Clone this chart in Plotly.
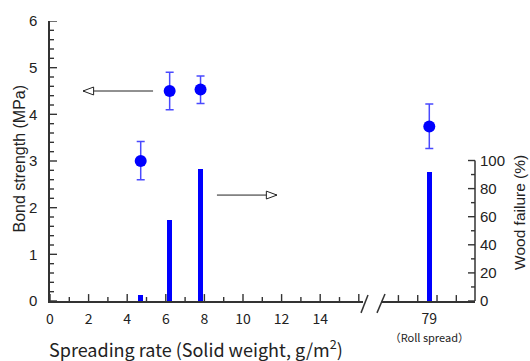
import plotly.graph_objects as go

# ---- data ----
spread_rate = [4.7, 6.2, 7.8, 79]
bond_strength = [3.0, 4.5, 4.53, 3.74]
bond_err_plus = [0.42, 0.40, 0.29, 0.48]
bond_err_minus = [0.40, 0.40, 0.30, 0.47]
wood_failure = [4, 58, 94, 92]
x_left_ticks = [0, 2, 4, 6, 8, 10, 12, 14]
x_left_major = [0, 2, 4, 6, 8, 10, 12, 14, 16]
x_left_minor = [1, 3, 5, 7, 9, 11, 13, 15]
x_right_ticks = [79]
x_right_ticktext = ["79<br><span style='font-size:11px'>（Roll spread）</span>"]
x_right_minor = [77.4, 78.4, 79.4, 80.4]
bs_major = [0, 1, 2, 3, 4, 5, 6]
bs_minor = [v / 10 for v in range(2, 60, 2) if v % 10]
wf_ticks = [0, 20, 40, 60, 80, 100]
wf_minor = [10, 30, 50, 70, 90]

BLUE = "#0000ff"
ERR = "#4a4aff"
AX = "#333333"
W, H = 530, 361
L, R, T, B = 50, 55, 18, 60
pw = W - L - R
ph = H - T - B
wf_px = 142  # height of the 0-100 % axis

d1 = [0, (363 - L) / pw]
d2 = [(381 - L) / pw, 1]
scale = 19.3  # px per unit
r1 = [0, (d1[1] - d1[0]) * pw / scale]
w2 = (d2[1] - d2[0]) * pw / scale
r2 = [79 - (429.3 - 381) / scale, 79 - (429.3 - 381) / scale + w2]

left = [i for i, v in enumerate(spread_rate) if v < 50]
right = [i for i, v in enumerate(spread_rate) if v >= 50]

def pick(arr, idx):
    return [arr[i] for i in idx]

fig = go.Figure()
for idx, xa in ((left, "x"), (right, "x2")):
    fig.add_trace(go.Bar(
        x=pick(spread_rate, idx), y=pick(wood_failure, idx),
        xaxis=xa, yaxis="y2", width=0.27, marker=dict(color=BLUE, line=dict(width=0)),
        showlegend=False))
for idx, xa in ((left, "x"), (right, "x2")):
    fig.add_trace(go.Scatter(
        x=pick(spread_rate, idx), y=pick(bond_strength, idx),
        xaxis=xa, yaxis="y", mode="markers", cliponaxis=False,
        marker=dict(color=BLUE, size=12),
        error_y=dict(type="data", symmetric=False,
                     array=pick(bond_err_plus, idx), arrayminus=pick(bond_err_minus, idx),
                     color=ERR, thickness=1.5, width=4),
        showlegend=False))

tickfont_x = dict(family="Noto Sans CJK JP", size=14, color="#222")
tickfont_y = dict(family="Liberation Sans", size=15, color="#222")

fig.update_layout(
    width=W, height=H, margin=dict(l=L, r=R, t=T, b=B),
    paper_bgcolor="white", plot_bgcolor="rgba(0,0,0,0)",
    bargap=0,
    xaxis=dict(domain=d1, range=r1, anchor="y", showline=True, linecolor=AX, linewidth=1.5,
               tickmode="array", tickvals=x_left_ticks, ticks="",
               tickfont=tickfont_x, ticklabelstandoff=4, showgrid=False, zeroline=False),
    xaxis2=dict(domain=d2, range=r2, anchor="y", showline=True, linecolor=AX, linewidth=1.5,
                tickmode="array", tickvals=x_right_ticks, ticktext=x_right_ticktext, ticks="",
                tickfont=tickfont_x, ticklabelstandoff=4, showgrid=False, zeroline=False),
    yaxis=dict(domain=[0, 1], range=[0, 6], anchor="x", showline=True, linecolor=AX, linewidth=1.5,
               tickmode="array", tickvals=bs_major, ticks="",
               tickfont=tickfont_y, ticklabelstandoff=8, showgrid=False, zeroline=False),
    yaxis2=dict(overlaying="y", range=[0, 100 * ph / wf_px], anchor="x2", side="right", showline=False,
                tickmode="array", tickvals=wf_ticks, ticks="",
                tickfont=tickfont_y, ticklabelstandoff=4, showgrid=False, zeroline=False),
)

def px2x(p):
    return (p - L) / pw

def py2y(p):
    return (T + ph - p) / ph

# right axis line only over the 0-100 % span
fig.add_shape(type="line", xref="paper", yref="paper", x0=1, x1=1, y0=0, y1=wf_px / ph,
              line=dict(color=AX, width=1.5))

# tick marks (inside)
tw = dict(color=AX, width=1.4)
for v in x_left_major + x_left_minor:
    ln = 7 if v in x_left_major else 4
    fig.add_shape(type="line", xref="x", yref="paper", x0=v, x1=v, y0=0, y1=ln / ph, line=tw)
for v in x_right_minor:
    fig.add_shape(type="line", xref="x2", yref="paper", x0=v, x1=v, y0=0, y1=6 / ph, line=tw)
for v in bs_major + bs_minor:
    ln = 7 if v in bs_major else 4
    fig.add_shape(type="line", xref="paper", yref="y", x0=0, x1=ln / pw, y0=v, y1=v, line=tw)
for v in wf_ticks + wf_minor:
    ln = 7 if v in wf_ticks else 4
    fig.add_shape(type="line", xref="paper", yref="y2", x0=1 - ln / pw, x1=1, y0=v, y1=v, line=tw)

# axis titles
fig.add_annotation(text="Spreading rate (Solid weight, g/m<sup>2</sup>)", xref="paper", yref="paper",
                   x=px2x(47), y=py2y(349), xanchor="left", yanchor="middle",
                   showarrow=False, font=dict(family="Noto Sans CJK JP", size=18, color="#222"))
fig.add_annotation(text="Bond strength (MPa)", xref="paper", yref="paper", textangle=-90,
                   x=px2x(20), y=py2y(157), xanchor="center", yanchor="middle",
                   showarrow=False, font=dict(family="Liberation Sans", size=16, color="#222"))
fig.add_annotation(text="Wood failure (%)", xref="paper", yref="paper", textangle=-90,
                   x=px2x(520), y=py2y(212), xanchor="center", yanchor="middle",
                   showarrow=False, font=dict(family="Liberation Sans", size=15.5, color="#222"))

# axis break marks
for (xa, ya, xb, yb) in ((361, 313, 368, 295), (377, 313, 385, 294)):
    fig.add_shape(type="line", xref="paper", yref="paper", x0=px2x(xa), y0=py2y(ya),
                  x1=px2x(xb), y1=py2y(yb), line=dict(color=AX, width=1.5))

# arrows (open triangle heads)
def arrow(x_tail, x_tip, y, xref, yref, hl, hh):
    fig.add_shape(type="line", xref=xref, yref=yref, x0=x_tail, y0=y, x1=x_tip, y1=y,
                  line=dict(color="#222", width=1))
    d = hl if x_tip > x_tail else -hl
    path = f"M {x_tip} {y} L {x_tip - d} {y + hh} L {x_tip - d} {y - hh} Z"
    fig.add_shape(type="path", xref=xref, yref=yref, path=path,
                  fillcolor="white", line=dict(color="#222", width=1))

arrow(5.34, 1.71, 4.5, "x", "y", 0.55, 0.085)
arrow(8.65, 11.76, 75.4, "x", "y2", 0.55, 2.8)

fig.write_html("out.html")
